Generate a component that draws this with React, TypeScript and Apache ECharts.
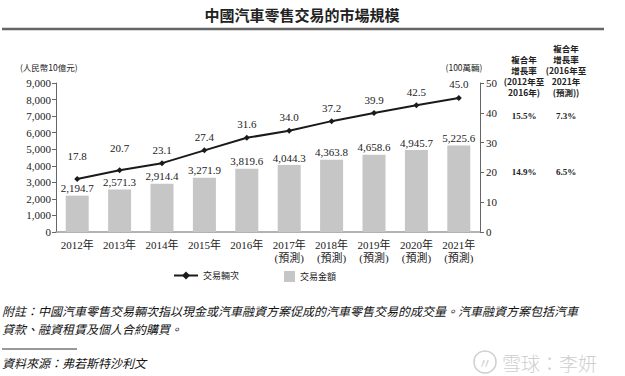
import React, { useEffect, useRef } from "react";
import * as echarts from "echarts";

const categories = [
  "2012年", "2013年", "2014年", "2015年", "2016年",
  "2017年\n(預測)", "2018年\n(預測)", "2019年\n(預測)", "2020年\n(預測)", "2021年\n(預測)",
];
const amountValues = [2194.7, 2571.3, 2914.4, 3271.9, 3819.6, 4044.3, 4363.8, 4658.6, 4945.7, 5225.6];
const volumeValues = [17.8, 20.7, 23.1, 27.4, 31.6, 34.0, 37.2, 39.9, 42.5, 45.0];
const cagrAmount = ["14.9%", "6.5%"];
const cagrVolume = ["15.5%", "7.3%"];

const SERIF = "'Liberation Serif', 'Noto Sans CJK TC', serif";
const CJK = "'Noto Sans CJK TC', 'Liberation Serif', serif";

function fmt(v: number, d: number) {
  return v.toLocaleString("en-US", { minimumFractionDigits: d, maximumFractionDigits: d });
}

export default function App() {
  const ref = useRef<HTMLDivElement>(null);
  useEffect(() => {
    if (!ref.current) return;
    const chart = echarts.init(ref.current, null, { renderer: "svg" });
    const txt = (x: number, y: number, text: string, extra: any = {}) => ({
      type: "text",
      x,
      y,
      silent: true,
      style: {
        text,
        fill: "#222",
        font: `11px ${SERIF}`,
        textAlign: "left",
        textVerticalAlign: "middle",
        ...extra,
      },
    });
    chart.setOption({
      animation: false,
      backgroundColor: "#fff",
      grid: { left: 56, right: 145, top: 83, bottom: 144, containLabel: false },
      legend: [
        {
          left: 168,
          top: 266,
          itemWidth: 24,
          itemHeight: 10,
          itemGap: 5,
          data: ["交易輛次"],
          textStyle: { fontFamily: CJK, fontSize: 9, color: "#222" },
        },
        {
          left: 279,
          top: 266,
          itemWidth: 11,
          itemHeight: 11,
          data: [{ name: "交易金額", icon: "rect" }],
          textStyle: { fontFamily: CJK, fontSize: 9, color: "#222" },
        },
      ],
      xAxis: {
        type: "category",
        data: categories,
        boundaryGap: true,
        axisLine: { show: true, lineStyle: { color: "#999", width: 1.5 } },
        axisTick: { show: false },
        axisLabel: {
          interval: 0,
          margin: 6,
          fontFamily: SERIF,
          fontSize: 11,
          lineHeight: 13,
          color: "#222",
        },
      },
      yAxis: [
        {
          type: "value",
          min: 0,
          max: 9000,
          interval: 1000,
          splitLine: { show: false },
          axisLine: { show: true, lineStyle: { color: "#666", width: 1 } },
          axisTick: { show: true, length: 4, lineStyle: { color: "#666" } },
          axisLabel: {
            margin: 5,
            fontFamily: SERIF,
            fontSize: 11,
            color: "#222",
            formatter: (v: number) => v.toLocaleString("en-US"),
          },
        },
        {
          type: "value",
          position: "right",
          min: 0,
          max: 50,
          interval: 10,
          splitLine: { show: false },
          axisLine: { show: true, lineStyle: { color: "#666", width: 1 } },
          axisTick: { show: true, length: 4, lineStyle: { color: "#666" } },
          axisLabel: { margin: 6, fontFamily: SERIF, fontSize: 11, color: "#222" },
        },
      ],
      series: [
        {
          name: "交易金額",
          type: "bar",
          yAxisIndex: 0,
          barWidth: 23,
          data: amountValues,
          itemStyle: { color: "#c6c6c6" },
          label: {
            show: true,
            position: "top",
            distance: 2,
            fontFamily: SERIF,
            fontSize: 11,
            color: "#222",
            formatter: (p: any) => fmt(p.value, 1),
          },
        },
        {
          name: "交易輛次",
          type: "line",
          yAxisIndex: 1,
          data: volumeValues.map((v, i) => ({
            value: v,
            label: { distance: i < 2 ? 14 : 5 },
          })),
          symbol: "diamond",
          symbolSize: 6,
          lineStyle: { color: "#1a1a1a", width: 2 },
          itemStyle: { color: "#1a1a1a" },
          label: {
            show: true,
            position: "top",
            fontFamily: SERIF,
            fontSize: 11,
            color: "#222",
            formatter: (p: any) => fmt(p.value, 1),
          },
        },
      ],
      graphic: [
        txt(302, 14, "中國汽車零售交易的市場規模", {
          font: `bold 15px ${CJK}`,
          textAlign: "center",
        }),
        {
          type: "line",
          silent: true,
          shape: { x1: 2, y1: 29, x2: 604, y2: 29 },
          style: { stroke: "#666", lineWidth: 2.5 },
        },
        txt(20, 67, "(人民幣10億元)", { font: `8.5px ${CJK}` }),
        txt(464, 67, "(100萬輛)", { font: `8.5px ${CJK}`, textAlign: "center" }),
        txt(524, 97, "複合年\n增長率\n(2012年至\n2016年)", {
          font: `bold 8.5px ${CJK}`,
          textAlign: "center",
          textVerticalAlign: "bottom",
          lineHeight: 11,
        }),
        txt(566, 97, "複合年\n增長率\n(2016年至\n2021年\n(預測))", {
          font: `bold 8.5px ${CJK}`,
          textAlign: "center",
          textVerticalAlign: "bottom",
          lineHeight: 11,
        }),
        txt(524, 116, cagrVolume[0], { font: `bold 9px ${SERIF}`, textAlign: "center" }),
        txt(566, 116, cagrVolume[1], { font: `bold 9px ${SERIF}`, textAlign: "center" }),
        txt(524, 172, cagrAmount[0], { font: `bold 9px ${SERIF}`, textAlign: "center" }),
        txt(566, 172, cagrAmount[1], { font: `bold 9px ${SERIF}`, textAlign: "center" }),
        txt(2, 310, "附註：中國汽車零售交易輛次指以現金或汽車融資方案促成的汽車零售交易的成交量。汽車融資方案包括汽車", {
          font: `italic 12px ${CJK}`,
          fill: "#111",
        }),
        txt(2, 328, "貸款、融資租賃及個人合約購買。", { font: `italic 12px ${CJK}`, fill: "#111" }),
        {
          type: "line",
          silent: true,
          shape: { x1: 2, y1: 349, x2: 77, y2: 349 },
          style: { stroke: "#333", lineWidth: 1 },
        },
        txt(2, 362, "資料來源：弗若斯特沙利文", { font: `italic 12px ${CJK}`, fill: "#111" }),
        {
          type: "circle",
          silent: true,
          shape: { cx: 485, cy: 362, r: 11 },
          style: { fill: "none", stroke: "#cfcfcf", lineWidth: 1.5 },
        },
        txt(485, 362, "〃", { font: `14px ${CJK}`, fill: "#cfcfcf", textAlign: "center" }),
        txt(502, 362, "雪球：李妍", { font: `300 19px ${CJK}`, fill: "#cfcfcf" }),
      ],
    });
    return () => chart.dispose();
  }, []);
  return (
    <div
      ref={ref}
      style={{ position: "absolute", left: 0, top: 0, width: 625, height: 376 }}
    />
  );
}
